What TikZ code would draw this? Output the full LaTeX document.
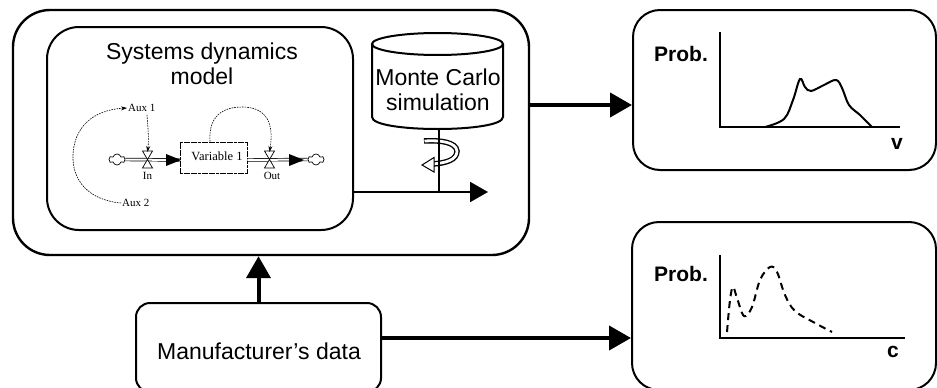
\documentclass[tikz,border=0pt]{standalone}
\usepackage{fontspec}
\setmainfont{Liberation Sans}
\newfontfamily\serifsmall{Liberation Serif}
\usetikzlibrary{arrows.meta,shapes.geometric,shapes.symbols}

\tikzset{
  panel/.style={draw, line width=2pt, rounded corners=#1, inner sep=0pt},
  bigarrow/.style={line width=4pt, -{Triangle[length=22pt,width=24pt]}},
  sdtext/.style={font=\serifsmall\fontsize{11}{12}\selectfont, inner sep=1pt},
  sdlink/.style={line width=0.6pt, dash pattern=on 1.6pt off 1pt, -{Stealth[length=6pt,width=4pt]}},
  pipe/.style={double=white, double distance=2pt, line width=0.7pt},
  valve/.style={draw, line width=0.7pt, fill=white},
  cloudy/.style={cloud, draw, cloud puffs=6, line width=0.7pt, minimum width=16pt, minimum height=11pt, inner sep=0pt, aspect=1.4},
  axis/.style={line width=2pt},
  big/.style={font=\fontsize{23}{25}\selectfont},
  probtxt/.style={font=\bfseries\fontsize{21}{24}\selectfont},
}

\begin{document}
\begin{tikzpicture}[x=1pt,y=-1pt]
\useasboundingbox (0,0) rectangle (937,388);

% outer model block and inner system dynamics block
\node[panel=37pt, line width=2.4pt, minimum width=516pt, minimum height=245pt] (outer) at (271,132.5) {};
\node[panel=32pt, minimum width=306pt, minimum height=203pt] (inner) at (200,128.5) {};
\node[big, align=center] (sdtitle) at (202,64) {Systems dynamics\\model};

% output panels
\node[panel=27pt, minimum width=303pt, minimum height=160pt] (pv) at (784.5,90) {};
\node[panel=27pt, minimum width=304pt, minimum height=168pt] (pc) at (784,306) {};
\node[panel=14pt, minimum width=245pt, minimum height=89pt] (mfr) at (258.5,347.5) {};
\node[big] (mfrtext) at (259,351) {Manufacturer's data};

% Monte Carlo cylinder
\draw[line width=2pt, fill=white] (372,44) -- (372,117) .. controls (372,133) and (503,133) .. (503,117) -- (503,44);
\draw[line width=2pt] (437.5,44) ellipse[x radius=65.5, y radius=11];
\node[big, align=center] (mc) at (438,90) {Monte Carlo\\simulation};
\coordinate (mcbot) at (439,129);
\coordinate (runout) at (488,192);

% iteration swirl around the run line
\draw[line width=5.5pt, line cap=butt] (424,141) .. controls (440,140) and (456,142) .. (457,151)
      .. controls (457,160) and (446,163) .. (433,164);
\draw[white, line width=2.8pt, line cap=butt] (424.5,141) .. controls (440,140) and (456,142) .. (457,151)
      .. controls (457,160) and (446,163) .. (432,164);
\draw[line width=1pt, fill=white] (422,165) -- (434,157.5) -- (434,172) -- cycle;

% simulation run line
\draw[line width=2pt] (mcbot) -- (mcbot |- runout);
\draw[line width=2pt, -{Triangle[length=18pt,width=20pt]}] (inner.east |- runout) -- (runout);

% main flows
\draw[bigarrow] ([yshift=27.5pt]outer.east) -- ([yshift=-15pt]pv.west);
\draw[bigarrow] (mfr.north) -- (mfr.north |- outer.south);
\draw[bigarrow] ([yshift=9.5pt]mfr.east) -- ([yshift=-32pt]pc.west);

% stock and flow sketch
\node[cloudy] (srccloud) at (117,159.5) {};
\node[cloudy] (sinkcloud) at (316,159.5) {};
\node[draw, line width=0.7pt, dash pattern=on 3pt off 0.6pt, minimum width=67pt, minimum height=31pt, inner sep=0pt] (var) at (213.5,157.5) {};
\node[sdtext, font=\serifsmall\fontsize{12.5}{13}\selectfont] (vartext) at (217,156) {Variable 1};
\draw[pipe] (srccloud.east) -- (var.west |- 0,160);
\draw[pipe] (var.east |- 0,160) -- (sinkcloud.west);
\fill (181,160) -- (166,154) -- (166,166) -- cycle;
\fill (304,160) -- (289,154) -- (289,166) -- cycle;
\draw[valve] (142.5,151) -- (152.5,151) -- (142.5,168) -- (152.5,168) -- cycle;
\draw[valve] (264.5,151) -- (274.5,151) -- (264.5,168) -- (274.5,168) -- cycle;
\coordinate (invalve) at (147.5,152);
\coordinate (outvalve) at (269.5,152);
\node[sdtext] (inlbl) at (147.5,176) {In};
\node[sdtext] (outlbl) at (272,176) {Out};
\node[sdtext, anchor=west] (aux1) at (127,108) {Aux 1};
\node[sdtext, anchor=west] (aux2) at (121,203) {Aux 2};

\draw[sdlink] (aux2.west) .. controls (88,200) and (72,180) .. (73,155)
      .. controls (74,128) and (92,110) .. (aux1.west);
\draw[sdlink] (aux1.south west) ++(20,2) .. controls (148,128) and (149,140) .. (invalve);
\draw[sdlink] (210,141.5) .. controls (208,112) and (228,107) .. (242,107)
      .. controls (262,107) and (275,118) .. (outvalve);

% value distribution
\node[probtxt] (pvlabel) at (681,54) {Prob.};
\draw[axis] (720,32) -- (720,127) -- (900,127);
\draw[line width=2pt] plot[smooth, tension=0.6] coordinates {(765,127) (784,119) (793,100) (800,79) (805,87) (811,91) (824,85) (836,80) (842,88) (849,105) (860,115) (872,127)};
\node[probtxt] (vlabel) at (897,144) {v};

% cost distribution
\node[probtxt] (pclabel) at (681,274) {Prob.};
\draw[axis] (720,255) -- (720,338) -- (905,338);
\draw[line width=2pt, dash pattern=on 7pt off 5pt] plot[smooth, tension=0.6] coordinates {(727,332) (730,300) (733,287) (737,298) (744,316) (752,307) (760,280) (770,267) (777,272) (785,295) (795,311) (815,323) (832,332)};
\node[probtxt] (clabel) at (893,352) {c};
\end{tikzpicture}
\end{document}
